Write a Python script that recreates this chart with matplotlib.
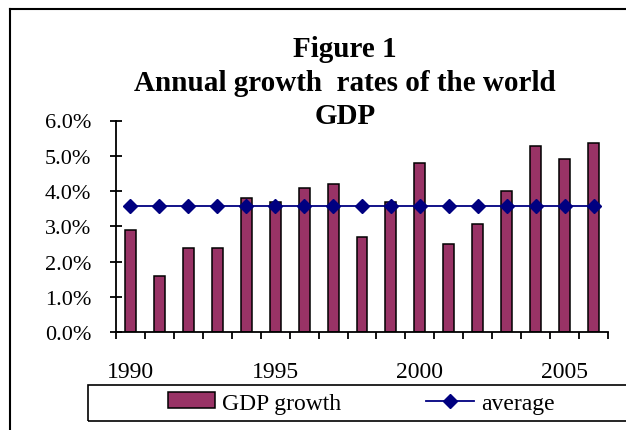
import matplotlib
matplotlib.use("Agg")
import matplotlib.pyplot as plt
from matplotlib.patches import Rectangle
from matplotlib.lines import Line2D
from matplotlib.ticker import FuncFormatter, FixedLocator

plt.rcParams['font.family'] = ['Liberation Serif', 'DejaVu Serif']

years = list(range(1990, 2007))
gdp_growth = [2.9, 1.6, 2.4, 2.4, 3.8, 3.7, 4.1, 4.2, 2.7, 3.7, 4.8,
              2.5, 3.07, 4.0, 5.27, 4.9, 5.36]
average = [3.58] * len(years)
year_labels = ["1990", "1995", "2000", "2005"]
title_lines = ["Figure 1", "Annual growth  rates of the world", "GDP"]

W, H = 626, 431
fig = plt.figure(figsize=(W / 100, H / 100), dpi=100)
fig.patch.set_facecolor('white')

ax = fig.add_axes([116 / W, 1 - 333.3 / H, (608 - 116) / W, (333.3 - 121.5) / H])
idx = list(range(len(years)))

bars = ax.bar(idx, [v / 100 for v in gdp_growth], width=0.38, color='#993366',
              edgecolor='black', linewidth=1.1, label='GDP growth', zorder=2)
avg_line, = ax.plot(idx, [v / 100 for v in average], color='#000080', lw=1.3,
                    marker='D', markersize=7.5, markerfacecolor='#000080',
                    markeredgecolor='#000080', label='average', zorder=3)

ax.set_xlim(-0.5, len(years) - 0.5)
ax.set_ylim(0, 0.06)
ax.set_yticks([i / 100 for i in range(7)])
ax.yaxis.set_major_formatter(FuncFormatter(lambda v, p: f"{v * 100:.1f}%"))

# category labels every five years, tick marks at category boundaries
label_pos = [years.index(int(y)) for y in year_labels]
ax.xaxis.set_major_locator(FixedLocator(label_pos))
ax.set_xticklabels(year_labels)
ax.xaxis.set_minor_locator(FixedLocator([i - 0.5 for i in range(len(years) + 1)]))
ax.tick_params(axis='x', which='major', length=0, pad=21, labelsize=17)
ax.tick_params(axis='x', which='minor', direction='out', length=5, width=1.3)
ax.tick_params(axis='y', direction='inout', length=8, width=1.3, pad=14,
               labelsize=16)

for s in ('top', 'right'):
    ax.spines[s].set_visible(False)
for s in ('left', 'bottom'):
    ax.spines[s].set_linewidth(1.3)

# title
for txt, base in zip(title_lines, [57, 91, 124]):
    fig.text(345 / W, 1 - base / H, txt, ha='center', va='baseline',
             fontsize=21, fontweight='bold')

# outer chart frame
fig.add_artist(Line2D([10 / W, 10 / W], [0, 1 - 10 / H], color='black', lw=1.5,
                      transform=fig.transFigure))
fig.add_artist(Line2D([10 / W, 1.0], [1 - 10 / H, 1 - 10 / H], color='black',
                      lw=1.5, transform=fig.transFigure))

# legend box
fig.add_artist(Rectangle((88 / W, 1 - 422 / H), 1.0, 36 / H, fill=False,
                         edgecolor='black', lw=1.2, transform=fig.transFigure))
fig.legend([bars, avg_line], ['GDP growth', 'average'], loc='center left',
           bbox_to_anchor=(168 / W, 1 - 404 / H), ncol=2, frameon=False,
           fontsize=17, borderpad=0, handlelength=2.0, handleheight=0.65,
           handletextpad=0.3, columnspacing=3.6, borderaxespad=0)

fig.savefig('out.png', dpi=100, facecolor='white')
